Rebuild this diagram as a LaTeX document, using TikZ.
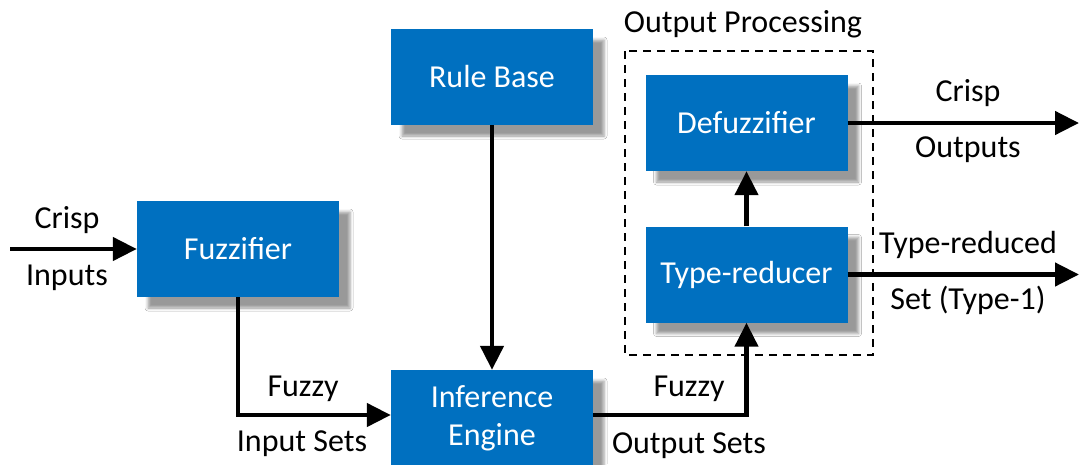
\documentclass[tikz,border=0pt]{standalone}
\usepackage{fontspec}
\setmainfont{Carlito}
\usetikzlibrary{arrows.meta,shadows.blur}
\definecolor{boxblue}{HTML}{0070C0}
\tikzset{
  block/.style={draw=none, fill=boxblue, text=white, minimum width=202pt, minimum height=96pt,
    inner sep=0pt, align=center, font=\fontsize{32}{38}\selectfont,
    blur shadow={shadow xshift=11pt, shadow yshift=-11pt, shadow blur radius=3pt, shadow opacity=40}},
  flow/.style={line width=4.5pt, -{Triangle[length=24pt,width=23pt]}},
  lbl/.style={font=\fontsize{32}{38}\selectfont, inner sep=0pt},
  group/.style={draw, line width=2.5pt, dash pattern=on 8pt off 6pt}
}
\begin{document}
\begin{tikzpicture}[x=1pt,y=-1pt]
\useasboundingbox[fill=white] (0,0) rectangle (1079,464);

% dashed group around the output stage
\draw[group] (625,51) rectangle (873,355);
\node[lbl] (optitle) at (743,24) {Output Processing};

% processing blocks
\node[block] (fuzz) at (238,249) {Fuzzifier};
\node[block] (rules) at (492,77) {Rule Base};
\node[block] (infer) at (492,418) {Inference\\Engine};
\node[block] (defuzz) at (746.5,123) {Defuzzifier};
\node[block] (tred) at (746.5,274.5) {Type-reducer};

% connector waypoints and free ends
\coordinate (inL) at (10,249);
\coordinate (c1) at (238,415);
\coordinate (c2) at (746.5,415);
\coordinate (outA) at (1079,123);
\coordinate (outB) at (1079,274.5);

% connectors
\draw[flow] (inL) -- (fuzz.west);
\draw[flow] (fuzz.south) -- (c1) -- (infer.west |- c1);
\draw[flow] (rules.south) -- (infer.north);
\draw[flow] (infer.east |- c2) -- (c2) -- (tred.south);
\draw[flow] (tred.north) -- (defuzz.south);
\draw[flow] (defuzz.east) -- (outA);
\draw[flow] (tred.east) -- (outB);

% connector labels
\node[lbl] (l1) at (67,220) {Crisp};
\node[lbl] (l2) at (67,278) {Inputs};
\node[lbl] (l3) at (303,389) {Fuzzy};
\node[lbl] (l4) at (302,444) {Input Sets};
\node[lbl] (l5) at (689,389) {Fuzzy};
\node[lbl] (l6) at (689,446) {Output Sets};
\node[lbl] (l7) at (968,93) {Crisp};
\node[lbl] (l8) at (968,150) {Outputs};
\node[lbl] (l9) at (968,245) {Type-reduced};
\node[lbl] (l10) at (968,300) {Set (Type-1)};
\end{tikzpicture}
\end{document}
